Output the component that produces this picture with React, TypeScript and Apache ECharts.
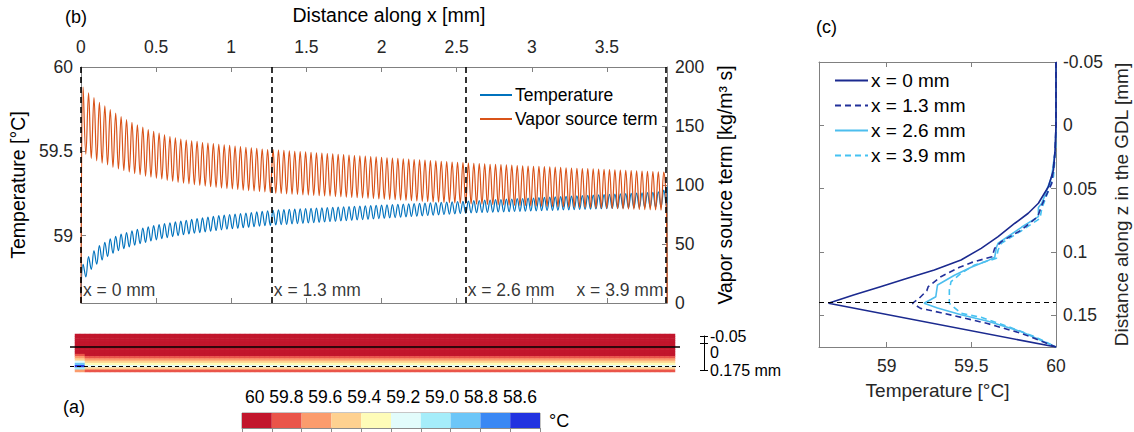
import React, { useEffect, useRef } from 'react';
import * as echarts from 'echarts';

const FONT = '"Liberation Sans", Arial, Helvetica, sans-serif';
const TXT = '#262626';
const AX = '#808080';

// ---------- Panel (b) ----------
const xMaxB = 3.9;
const xTicksB = [0, 0.5, 1, 1.5, 2, 2.5, 3, 3.5];
const tempTicks = [59, 59.5, 60];
const tempStart = 58.65;
const tempEnd = 59.29;
const vaporStart = 0;
const vaporEnd = 0;

const tempPeaks = [
  58.83, 58.875, 58.91, 58.94, 58.96, 58.98, 58.995, 59.008, 59.018, 59.028,
  59.037, 59.045, 59.052, 59.059, 59.065, 59.071, 59.076, 59.081, 59.086, 59.091,
  59.096, 59.1, 59.105, 59.11, 59.114, 59.118, 59.121, 59.124, 59.128, 59.131,
  59.134, 59.137, 59.14, 59.143, 59.146, 59.149,
  59.152, 59.154, 59.155, 59.157, 59.158, 59.16, 59.161, 59.163, 59.164, 59.166,
  59.167, 59.169, 59.17, 59.172, 59.173, 59.175, 59.176, 59.178, 59.179, 59.181,
  59.182, 59.184, 59.185, 59.187, 59.188, 59.19, 59.191, 59.193, 59.194, 59.196,
  59.197, 59.199, 59.2, 59.202, 59.203, 59.205,
  59.207, 59.208, 59.21, 59.211, 59.213, 59.214, 59.216, 59.217, 59.219, 59.22,
  59.222, 59.223, 59.225, 59.226, 59.228, 59.229, 59.231, 59.232, 59.234, 59.235,
  59.237, 59.238, 59.24, 59.241, 59.243, 59.244, 59.246, 59.247, 59.249, 59.25,
  59.252, 59.253, 59.255, 59.257, 59.26, 59.27,
];
const tempTroughs = [
  58.755, 58.8, 58.83, 58.855, 58.875, 58.895, 58.91, 58.922, 58.933, 58.943,
  58.952, 58.96, 58.968, 58.975, 58.982, 58.988, 58.994, 59.0, 59.005, 59.01,
  59.014, 59.018, 59.022, 59.026, 59.03, 59.034, 59.038, 59.041, 59.044, 59.047,
  59.05, 59.053, 59.056, 59.059, 59.061, 59.063,
  59.065, 59.067, 59.069, 59.071, 59.073, 59.075, 59.077, 59.079, 59.081, 59.083,
  59.085, 59.087, 59.089, 59.091, 59.093, 59.095, 59.097, 59.099, 59.101, 59.103,
  59.105, 59.107, 59.109, 59.111, 59.113, 59.115, 59.117, 59.119, 59.121, 59.123,
  59.125, 59.127, 59.129, 59.131, 59.133, 59.135,
  59.136, 59.137, 59.138, 59.139, 59.14, 59.141, 59.142, 59.143, 59.144, 59.145,
  59.146, 59.147, 59.148, 59.149, 59.15, 59.151, 59.152, 59.153, 59.154, 59.155,
  59.156, 59.157, 59.158, 59.159, 59.16, 59.161, 59.162, 59.163, 59.164, 59.165,
  59.166, 59.167, 59.168, 59.169, 59.17, 59.171,
];
const vaporPeaks = [
  183, 178, 174, 170, 167, 164, 161, 158, 155.5, 153,
  151, 149, 147, 145.5, 144, 142.5, 141, 140, 139, 138,
  137.5, 137, 136, 135.5, 135, 134.5, 134, 133.5, 133, 132.5,
  132, 131.5, 131, 130.5, 130, 130,
  129.6, 129.3, 129, 128.6, 128.3, 128, 127.6, 127.3, 127, 126.7,
  126.3, 126, 125.7, 125.4, 125, 124.7, 124.4, 124.1, 123.8, 123.5,
  123.1, 122.8, 122.5, 122.2, 121.9, 121.6, 121.3, 121, 120.7, 120.4,
  120.1, 119.8, 119.5, 119.2, 118.9, 118.6,
  118.3, 118.1, 117.9, 117.6, 117.4, 117.2, 117, 116.8, 116.5, 116.3,
  116.1, 115.9, 115.7, 115.5, 115.3, 115.1, 114.9, 114.6, 114.4, 114.2,
  114, 113.8, 113.6, 113.4, 113.2, 113, 112.8, 112.6, 112.4, 112.2,
  112, 111.8, 111.6, 111.4, 111.2, 111,
];
const vaporTroughs = [
  126, 122.5, 120.5, 118.5, 117, 115, 113.7, 112.3, 111, 109.7,
  108.7, 107.5, 106.6, 105.8, 105, 104, 103.2, 102.3, 101.5, 101,
  100.3, 99.7, 99.1, 98.5, 98, 97.4, 97, 96.6, 96.2, 95.7,
  95.3, 94.9, 94.6, 94.2, 93.6, 93,
  92.8, 92.5, 92.2, 92, 91.7, 91.5, 91.2, 91, 90.7, 90.5,
  90.2, 90, 89.7, 89.5, 89.2, 89, 88.7, 88.5, 88.2, 88,
  87.7, 87.5, 87.2, 87, 86.7, 86.5, 86.2, 86, 85.7, 85.5,
  85.2, 85, 84.8, 84.5, 84.3, 84,
  83.8, 83.7, 83.5, 83.4, 83.2, 83.1, 82.9, 82.8, 82.6, 82.5,
  82.3, 82.2, 82, 81.9, 81.7, 81.6, 81.4, 81.3, 81.1, 81,
  80.8, 80.7, 80.5, 80.4, 80.2, 80.1, 79.9, 79.8, 79.6, 79.5,
  79.3, 79.2, 79, 78.9, 78.7, 78.6,
];
const sectionLineX = [0, 1.27, 2.56, 3.89];
const sectionLabels = ['x = 0 mm', 'x = 1.3 mm', 'x = 2.6 mm', 'x = 3.9 mm'];
const sectionLabelY = 58.68;

// ---------- Panel (c) ----------
const zTicksC = [-0.05, 0, 0.05, 0.1, 0.15];
const tTicksC = [59, 59.5, 60];
const hotspotZ = 0.14;
const prof0Z = [-0.05, 0, 0.0195, 0.0353, 0.0485, 0.0615, 0.0694, 0.0773, 0.0879, 0.0971, 0.1063, 0.1142, 0.1208, 0.1274, 0.134, 0.1405, 0.175];
const prof0T = [60, 60, 59.995, 59.985, 59.955, 59.896, 59.836, 59.757, 59.658, 59.558, 59.439, 59.281, 59.122, 58.963, 58.804, 58.656, 60];
const prof13Z = [-0.05, 0, 0.0195, 0.0458, 0.063, 0.0721, 0.0826, 0.0918, 0.0971, 0.1037, 0.1084, 0.1121, 0.1195, 0.1274, 0.1305, 0.1366, 0.1405, 0.1445, 0.1479, 0.1519, 0.1563, 0.1642, 0.175];
const prof13T = [60, 60, 59.995, 59.975, 59.916, 59.892, 59.796, 59.677, 59.638, 59.622, 59.499, 59.43, 59.32, 59.245, 59.237, 59.191, 59.152, 59.2, 59.32, 59.45, 59.59, 59.796, 60];
const prof26Z = [-0.05, 0, 0.0195, 0.0405, 0.0616, 0.0648, 0.0721, 0.0805, 0.0931, 0.0963, 0.1042, 0.1068, 0.1121, 0.1184, 0.126, 0.1353, 0.1405, 0.1442, 0.1495, 0.1547, 0.1629, 0.175];
const prof26T = [60, 60, 59.995, 59.975, 59.916, 59.896, 59.896, 59.796, 59.658, 59.648, 59.638, 59.598, 59.499, 59.4, 59.3, 59.29, 59.221, 59.3, 59.439, 59.598, 59.796, 60];
const prof39Z = [-0.05, 0, 0.0195, 0.0405, 0.0589, 0.0655, 0.0734, 0.0832, 0.0931, 0.0984, 0.105, 0.1103, 0.1168, 0.1234, 0.13, 0.1405, 0.1484, 0.1516, 0.1589, 0.1669, 0.175];
const prof39T = [60, 60, 59.998, 59.985, 59.935, 59.916, 59.906, 59.796, 59.677, 59.658, 59.648, 59.519, 59.439, 59.38, 59.37, 59.37, 59.439, 59.558, 59.717, 59.876, 60];
const profNames = ['x = 0 mm', 'x = 1.3 mm', 'x = 2.6 mm', 'x = 3.9 mm'];
const profColors = ['#1b2a8f', '#22309a', '#4DBEEE', '#45c2f2'];

// ---------- Panel (a) ----------
const stripRowsZ = [-0.045, -0.035, -0.025, -0.015, -0.005, 0.007, 0.022, 0.036, 0.051, 0.066, 0.08, 0.095, 0.109, 0.124, 0.139, 0.153, 0.168];
const stripTemps = [60, 60, 60, 60, 60, 60, 59.99, 59.98, 59.95, 59.9, 59.8, 59.65, 59.52, 59.33, 59.24, 59.52, 59.83];
const stripEdgeTemps = [60, 60, 60, 60, 60, 60, 59.99, 59.97, 59.93, 59.85, 59.71, 59.55, 59.28, 58.96, 58.7, 59.12, 59.7];
const stripCols = 120;
const stripEdgeCols = 2;
const interfaceRow = 5;
const hotspotRow = 14;
const bracketTicks = [-0.05, 0, 0.175];
const binEdges = [60, 59.86, 59.72, 59.58, 59.44, 59.3, 59.16, 59.02, 58.88, 58.74, 58.6];
const colorBins = ['#c2162c', '#ea554a', '#fb9c6d', '#fed190', '#fefcb8', '#e2fcfb', '#a5edfa', '#6cc6f8', '#3a88f4', '#2233e0'];
const colorbarLabels = ['60', '59.8', '59.6', '59.4', '59.2', '59.0', '58.8', '58.6'];

function buildOsc(start: number, peaks: number[], troughs: number[], end: number) {
  const n = Math.min(peaks.length, troughs.length);
  const step = xMaxB / n;
  const d: number[][] = [[0, start]];
  for (let i = 0; i < n; i++) {
    d.push([(i + 0.4) * step, peaks[i]]);
    d.push([(i + 0.9) * step, troughs[i]]);
  }
  d.push([xMaxB, end]);
  return d;
}
const zip = (a: number[], b: number[]) => a.map((v, i) => [v, b[i]]);

const tickStyle = { color: AX, width: 1 };

// one axis per bracket label so that each label can be placed on its own
function bracketAxis(labels: number[], ticks: 'out' | 'in' | 'none', vAlign: string, lineHeight: number) {
  return {
    gridIndex: 3, type: 'value', position: 'right', offset: 24, min: -0.05, max: 0.175, inverse: true,
    axisLine: { show: ticks === 'out', onZero: false, lineStyle: { color: '#000', width: 1 } },
    axisTick: { show: ticks !== 'none', inside: ticks === 'in', length: 4, customValues: bracketTicks, lineStyle: { color: '#000' } },
    axisLabel: {
      show: true, customValues: labels, fontSize: 16, lineHeight, verticalAlign: vAlign, color: '#000', margin: 6, hideOverlap: false,
      formatter: (v: number) => (v === bracketTicks[bracketTicks.length - 1] ? v + ' mm' : String(v)),
    },
    splitLine: { show: false },
  };
}

export default function App() {
  const ref = useRef<HTMLDivElement>(null);
  useEffect(() => {
    if (!ref.current) return;
    const chart = echarts.init(ref.current, undefined, { renderer: 'svg' });

    const heatData: number[][] = [];
    for (let c = 1; c <= stripCols; c++) {
      const col = c <= stripEdgeCols ? stripEdgeTemps : stripTemps;
      for (let r = 0; r < stripRowsZ.length; r++) heatData.push([c, r, col[r]]);
    }
    const colCats = Array.from({ length: stripCols + 2 }, (_, i) => String(i));
    const rowCats = stripRowsZ.map(String);

    const yAxes: any[] = [
      { gridIndex: 0, type: 'value', position: 'left', min: 58.6, max: 60,
        axisLine: { show: true, onZero: false, lineStyle: tickStyle },
        axisTick: { show: true, inside: true, length: 5, customValues: tempTicks, lineStyle: tickStyle },
        axisLabel: { show: true, customValues: tempTicks, fontSize: 17.5, color: TXT, margin: 8 },
        splitLine: { show: false },
        name: 'Temperature [°C]', nameLocation: 'middle', nameGap: 42, nameRotate: 90,
        nameTextStyle: { fontSize: 19.5, color: '#000' } },
      { gridIndex: 0, type: 'value', position: 'right', min: 0, max: 200, interval: 50,
        axisLine: { show: true, onZero: false, lineStyle: tickStyle },
        axisTick: { show: true, inside: true, length: 5, lineStyle: tickStyle },
        axisLabel: { show: true, fontSize: 17.5, color: TXT, margin: 8 },
        splitLine: { show: false },
        name: 'Vapor source term [kg/m³ s]', nameLocation: 'middle', nameGap: 30, nameRotate: 90,
        nameTextStyle: { fontSize: 19.5, color: '#000' } },
      { gridIndex: 1, type: 'value', position: 'right', min: -0.05, max: 0.175, inverse: true,
        axisLine: { show: true, onZero: false, lineStyle: tickStyle },
        axisTick: { show: true, inside: true, length: 5, customValues: zTicksC, lineStyle: tickStyle },
        axisLabel: { show: true, customValues: zTicksC, fontSize: 17.5, color: TXT, margin: 7, formatter: (v: number) => String(v) },
        splitLine: { show: false },
        name: 'Distance along z in the GDL [mm]', nameLocation: 'middle', nameGap: 56, nameRotate: 90,
        nameTextStyle: { fontSize: 19, color: TXT } },
      { gridIndex: 1, type: 'value', position: 'left', min: -0.05, max: 0.175, inverse: true,
        axisLine: { show: true, onZero: false, lineStyle: tickStyle },
        axisTick: { show: true, inside: true, length: 5, customValues: zTicksC, lineStyle: tickStyle },
        axisLabel: { show: false }, splitLine: { show: false } },
      { gridIndex: 2, type: 'category', data: rowCats, inverse: true, show: false },
      { gridIndex: 4, type: 'value', min: 0, max: 1, show: false },
      bracketAxis(bracketTicks.slice(0, 1), 'out', 'middle', 13),
      bracketAxis(bracketTicks.slice(1, 2), 'in', 'top', 17),
      bracketAxis(bracketTicks.slice(2), 'none', 'middle', 16),
    ];

    const option: any = {
      animation: false,
      backgroundColor: '#fff',
      textStyle: { fontFamily: FONT },
      grid: [
        { left: 74, top: 67, width: 593, height: 236 },
        { left: 819, top: 62, width: 237, height: 285 },
        { left: 70, top: 334, width: 610, height: 38 },
        { left: 70, top: 336, width: 610, height: 34 },
        { left: 242, top: 413, width: 298, height: 15, show: true, borderColor: '#8c8c8c', borderWidth: 1 },
      ],
      legend: [
        {
          data: ['Temperature', 'Vapor source term'], orient: 'vertical', left: 474, top: 81,
          itemWidth: 32, itemHeight: 12, itemGap: 6, selectedMode: false,
          itemStyle: { opacity: 0 }, lineStyle: { opacity: 1 },
          textStyle: { fontSize: 17.5, color: '#000', fontFamily: FONT, padding: [0, 0, 0, -2] },
        },
        {
          data: profNames, orient: 'vertical', left: 829, top: 66,
          itemWidth: 33, itemHeight: 12, itemGap: 6, selectedMode: false,
          itemStyle: { opacity: 0 }, lineStyle: { opacity: 1 },
          textStyle: { fontSize: 19, color: '#000', fontFamily: FONT, padding: [0, 0, 0, -2] },
        },
      ],
      visualMap: [{
        type: 'piecewise', show: false, seriesIndex: 7, dimension: 2,
        pieces: colorBins.map((c, i) => ({ min: binEdges[i + 1], max: binEdges[i], color: c })),
      }],
      xAxis: [
        { gridIndex: 0, type: 'value', position: 'bottom', min: 0, max: xMaxB,
          axisLine: { show: true, onZero: false, lineStyle: tickStyle },
          axisTick: { show: true, inside: true, length: 5, customValues: xTicksB, lineStyle: tickStyle },
          axisLabel: { show: false }, splitLine: { show: false } },
        { gridIndex: 0, type: 'value', position: 'top', min: 0, max: xMaxB,
          axisLine: { show: true, onZero: false, lineStyle: tickStyle },
          axisTick: { show: true, inside: true, length: 5, customValues: xTicksB, lineStyle: tickStyle },
          axisLabel: { show: true, customValues: xTicksB, fontSize: 17.5, color: TXT, margin: 11 },
          splitLine: { show: false },
          name: 'Distance along x [mm]', nameLocation: 'middle', nameGap: 42,
          nameTextStyle: { fontSize: 19.5, color: '#000', padding: [0, 0, 0, 30] } },
        { gridIndex: 1, type: 'value', position: 'bottom', min: 58.6, max: 60,
          axisLine: { show: true, onZero: false, lineStyle: tickStyle },
          axisTick: { show: true, inside: true, length: 5, customValues: tTicksC, lineStyle: tickStyle },
          axisLabel: { show: true, customValues: tTicksC, fontSize: 17.5, color: TXT, margin: 10 },
          splitLine: { show: false },
          name: 'Temperature [°C]', nameLocation: 'middle', nameGap: 34,
          nameTextStyle: { fontSize: 19, color: TXT } },
        { gridIndex: 1, type: 'value', position: 'top', min: 58.6, max: 60,
          axisLine: { show: true, onZero: false, lineStyle: tickStyle },
          axisTick: { show: true, inside: true, length: 5, customValues: tTicksC, lineStyle: tickStyle },
          axisLabel: { show: false }, splitLine: { show: false } },
        { gridIndex: 2, type: 'category', data: colCats, show: false },
        { gridIndex: 3, type: 'value', min: 0, max: 1, show: false },
        { gridIndex: 4, type: 'category', position: 'top', data: colorBins.map((_, i) => String(i)),
          axisLine: { show: true, lineStyle: { color: '#8c8c8c' } },
          axisTick: { show: true, inside: true, length: 4, interval: 0, lineStyle: { color: '#8c8c8c' } },
          axisLabel: { show: false }, splitLine: { show: false } },
      ],
      yAxis: yAxes,
      series: [
        { name: 'Temperature', type: 'line', xAxisIndex: 0, yAxisIndex: 0, symbol: 'none', smooth: 0.4,
          data: buildOsc(tempStart, tempPeaks, tempTroughs, tempEnd),
          lineStyle: { color: '#0072BD', width: 1.2 }, itemStyle: { color: '#0072BD' }, z: 2 },
        { name: 'Vapor source term', type: 'line', xAxisIndex: 0, yAxisIndex: 1, symbol: 'none', smooth: 0.4,
          data: buildOsc(vaporStart, vaporPeaks, vaporTroughs, vaporEnd),
          lineStyle: { color: '#D95319', width: 1.2 }, itemStyle: { color: '#D95319' }, z: 3 },
        { name: 'sections', type: 'scatter', xAxisIndex: 0, yAxisIndex: 0, symbolSize: 0, silent: true, z: 5,
          data: sectionLineX.map((x, i) => ({
            value: [x, sectionLabelY],
            label: { show: true, formatter: sectionLabels[i], position: i === sectionLineX.length - 1 ? 'left' : 'right',
              distance: 2, fontSize: 17.5, color: '#000' },
          })),
          markLine: { silent: true, symbol: ['none', 'none'], label: { show: false },
            lineStyle: { color: '#000', type: [6, 4], width: 1.6 },
            data: sectionLineX.map((x) => ({ xAxis: x })) } },
        ...[0, 1, 2, 3].map((k) => ({
          name: profNames[k], type: 'line', xAxisIndex: 2, yAxisIndex: 2, symbol: 'none',
          data: zip([prof0T, prof13T, prof26T, prof39T][k], [prof0Z, prof13Z, prof26Z, prof39Z][k]),
          lineStyle: { color: profColors[k], width: 1.6, type: k % 2 === 1 ? [6, 4] : 'solid' },
          itemStyle: { color: profColors[k] }, z: 4 - k,
          markLine: k === 0 ? { silent: true, symbol: ['none', 'none'], label: { show: false },
            lineStyle: { color: '#000', type: [5, 4], width: 1.2 }, data: [{ yAxis: hotspotZ }] } : undefined,
        })),
        { name: 'strip', type: 'heatmap', xAxisIndex: 4, yAxisIndex: 4, data: heatData, silent: true,
          emphasis: { disabled: true },
          markLine: { silent: true, symbol: ['none', 'none'], label: { show: false },
            data: [
              { yAxis: rowCats[interfaceRow], lineStyle: { color: '#000', type: 'solid', width: 1.5 } },
              { yAxis: rowCats[hotspotRow], lineStyle: { color: '#000', type: [4, 3], width: 1.2 } },
            ] } },
        { name: 'colorbar', type: 'bar', xAxisIndex: 6, yAxisIndex: 5, barCategoryGap: '0%', silent: true,
          data: colorBins.map((c) => ({ value: 1, itemStyle: { color: c } })) },
      ],
      graphic: [
        { type: 'text', x: 65, y: 17, style: { text: '(b)', fontSize: 18, fill: '#000', font: '18px ' + FONT, verticalAlign: 'middle' } },
        { type: 'text', x: 816, y: 27, style: { text: '(c)', fontSize: 18, fill: '#000', font: '18px ' + FONT, verticalAlign: 'middle' } },
        { type: 'text', x: 63, y: 407, style: { text: '(a)', fontSize: 18, fill: '#000', font: '18px ' + FONT, verticalAlign: 'middle' } },
        { type: 'text', x: 391, y: 397, style: { text: colorbarLabels.join(' '), fontSize: 17.5, fill: '#000', font: '17.5px ' + FONT, align: 'center', verticalAlign: 'middle' } },
        { type: 'text', x: 549, y: 421, style: { text: '°C', fontSize: 18, fill: '#000', font: '18px ' + FONT, verticalAlign: 'middle' } },
      ],
    };
    chart.setOption(option);
    return () => chart.dispose();
  }, []);
  return <div ref={ref} style={{ position: 'fixed', left: 0, top: 0, width: 1134, height: 432, background: '#fff' }} />;
}
